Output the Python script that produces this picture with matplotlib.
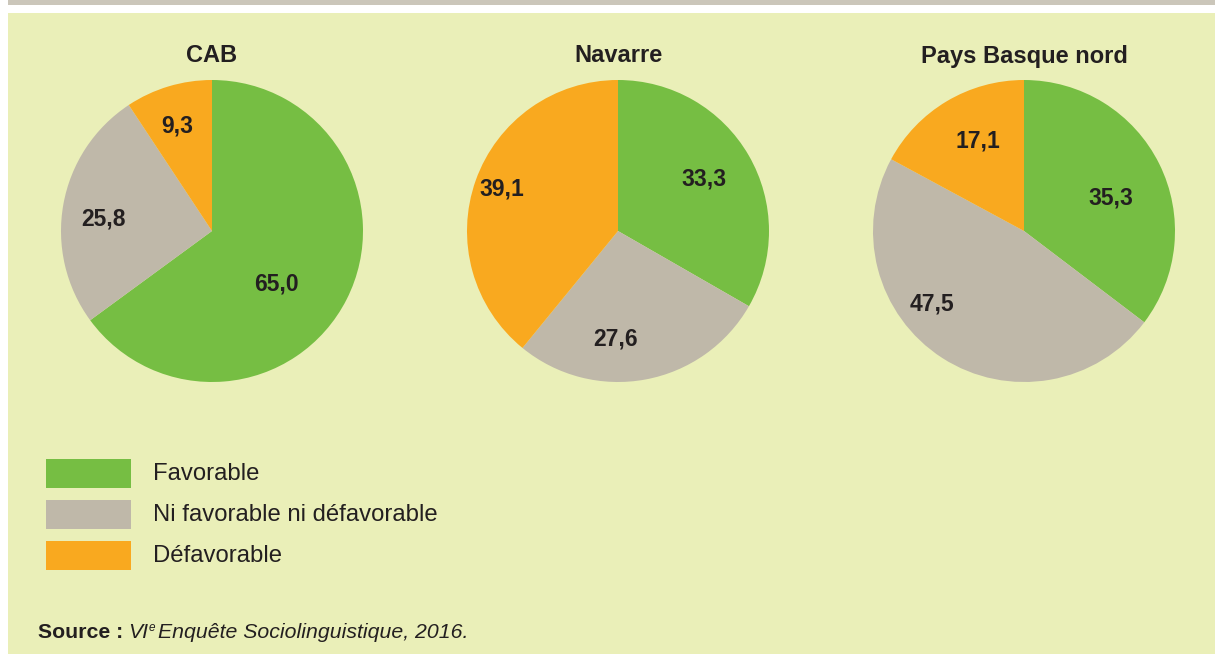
import numpy as np
import matplotlib.pyplot as plt
from matplotlib.patches import Rectangle

W, H = 1215, 654

regions = ['CAB', 'Navarre', 'Pays Basque nord']
categories = ['Favorable', 'Ni favorable ni défavorable', 'Défavorable']
favorable = [65.0, 33.3, 35.3]
neutre = [25.8, 27.6, 47.5]
defavorable = [9.3, 39.1, 17.1]

colors = ['#76BE43', '#BFB8A9', '#F9A91F']
bg = '#EAEFB8'
ink = '#231F20'

# distance relative du libellé au centre, par part, plus un petit décalage (x, y)
label_r = [[0.55, 0.73, 0.74], [0.66, 0.71, 0.82], [0.61, 0.78, 0.68]]
nudge = [[(-0.066, -0.10), (0.0, -0.046), (-0.02, -0.013)],
         [(0.0, 0.013), (-0.146, -0.02), (0.0, 0.0)],
         [(0.026, -0.053), (-0.19, 0.17), (0.04, 0.013)]]

fig = plt.figure(figsize=(W / 100, H / 100), dpi=100)
fig.patch.set_facecolor('white')

# bandeau gris en haut et fond vert
fig.patches.append(Rectangle((8 / W, 1 - 5 / H), 1, 5 / H, transform=fig.transFigure,
                             facecolor='#CBC6BA', edgecolor='none', zorder=-2))
fig.patches.append(Rectangle((8 / W, 0), 1, 1 - 13 / H, transform=fig.transFigure,
                             facecolor=bg, edgecolor='none', zorder=-2))

centers_x = [212, 618, 1024]
cy, R = 231, 151

for i, name in enumerate(regions):
    vals = [favorable[i], neutre[i], defavorable[i]]
    ax = fig.add_axes([(centers_x[i] - R) / W, (H - cy - R) / H, 2 * R / W, 2 * R / H])
    ax.patch.set_alpha(0)
    ax.pie(vals, colors=colors, startangle=90, counterclock=False, radius=1,
           wedgeprops=dict(linewidth=0))
    ax.set_xlim(-1, 1)
    ax.set_ylim(-1, 1)
    ax.set_aspect('equal')
    ax.axis('off')
    cum = np.cumsum([0] + vals)
    tot = sum(vals)
    for j, v in enumerate(vals):
        mid = np.deg2rad(90 - 360 * (cum[j] + v / 2) / tot)
        r = label_r[i][j]
        dx, dy = nudge[i][j]
        ax.text(r * np.cos(mid) + dx, r * np.sin(mid) + dy, f'{v:.1f}'.replace('.', ','),
                ha='center', va='center', fontsize=16.5, fontweight='bold',
                color=ink, family='Liberation Sans')
    fig.text(centers_x[i] / W, 1 - 56 / H, name, ha='center', va='center',
             fontsize=17, fontweight='bold', color=ink, family='Liberation Sans')

# légende
for k, (lab, c) in enumerate(zip(categories, colors)):
    y0 = 459 + k * 41
    fig.patches.append(Rectangle((46 / W, 1 - (y0 + 29) / H), 85 / W, 29 / H,
                                 transform=fig.transFigure, facecolor=c, edgecolor='none'))
    fig.text(153 / W, 1 - (y0 + 15) / H, lab, ha='left', va='center', fontsize=17.2,
             color=ink, family='Liberation Sans')

# source, avec l'exposant placé juste après "VI"
renderer = fig.canvas.get_renderer()
fig.text(38 / W, 1 - 633 / H, 'Source :', ha='left', va='center', fontsize=15.3,
         fontweight='bold', color=ink, family='Liberation Sans')
t_vi = fig.text(128 / W, 1 - 633 / H, 'VI', ha='left', va='center', fontsize=15.3,
                style='italic', color=ink, family='Liberation Sans')
x_e = t_vi.get_window_extent(renderer).x1 + 1
t_e = fig.text(x_e / W, 1 - 628 / H, 'e', ha='left', va='center', fontsize=8.5,
               style='italic', color=ink, family='Liberation Sans')
x_txt = t_e.get_window_extent(renderer).x1 + 3
fig.text(x_txt / W, 1 - 633 / H, 'Enquête Sociolinguistique, 2016.', ha='left', va='center',
         fontsize=15.3, style='italic', color=ink, family='Liberation Sans')

fig.savefig('out.png', dpi=100, facecolor=fig.get_facecolor())
